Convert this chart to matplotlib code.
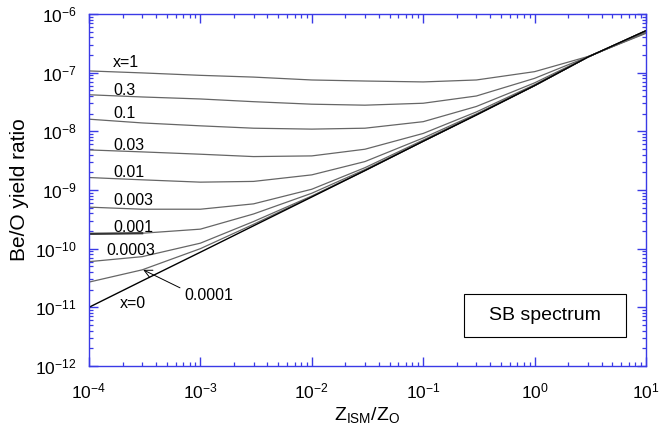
import matplotlib
matplotlib.use("Agg")
import matplotlib.pyplot as plt
from matplotlib.patches import Rectangle
from matplotlib.ticker import LogLocator, LogFormatterSciNotation, NullFormatter

plt.rcParams['font.family'] = ['Liberation Sans', 'DejaVu Sans']
plt.rcParams['mathtext.fontset'] = 'custom'
plt.rcParams['mathtext.rm'] = 'Liberation Sans'
plt.rcParams['mathtext.it'] = 'Liberation Sans'
plt.rcParams['mathtext.bf'] = 'Liberation Sans:bold'

# Z_ISM / Z_O grid
z = [1e-4, 3e-4, 1e-3, 3e-3, 1e-2, 3e-2, 0.1, 0.3, 1, 3, 10]

# Be/O yield ratio for each mixing fraction x
be_x1      = [1.07e-7, 9.9e-8, 9.0e-8, 8.4e-8, 7.5e-8, 7.2e-8, 6.95e-8, 7.5e-8, 1.04e-7, 1.88e-7, 4.68e-7]
be_x03     = [4.2e-8, 3.85e-8, 3.56e-8, 3.2e-8, 2.9e-8, 2.79e-8, 3.01e-8, 4.0e-8, 8.0e-8, 1.86e-7, 4.79e-7]
be_x01     = [1.61e-8, 1.39e-8, 1.24e-8, 1.13e-8, 1.09e-8, 1.13e-8, 1.46e-8, 2.65e-8, 6.7e-8, 1.85e-7, 4.9e-7]
be_x003    = [4.82e-9, 4.46e-9, 4.07e-9, 3.71e-9, 3.81e-9, 4.95e-9, 9.2e-9, 2.14e-8, 6.24e-8, 1.84e-7, 5.0e-7]
be_x001    = [1.63e-9, 1.49e-9, 1.36e-9, 1.40e-9, 1.81e-9, 3.05e-9, 7.7e-9, 1.98e-8, 6.1e-8, 1.84e-7, 5.07e-7]
be_x0003   = [5.1e-10, 4.7e-10, 4.7e-10, 5.8e-10, 1.03e-9, 2.4e-9, 7.1e-9, 1.93e-8, 6.03e-8, 1.84e-7, 5.13e-7]
be_x0001   = [1.79e-10, 1.83e-10, 2.15e-10, 3.9e-10, 8.8e-10, 2.23e-9, 6.84e-9, 1.91e-8, 6.0e-8, 1.84e-7, 5.19e-7]
be_x00003  = [6.0e-11, 7.3e-11, 1.24e-10, 2.9e-10, 7.9e-10, 2.16e-9, 6.8e-9, 1.9e-8, 6.0e-8, 1.84e-7, 5.19e-7]
be_x00001  = [2.69e-11, 4.35e-11, 1.0e-10, 2.6e-10, 7.76e-10, 2.14e-9, 6.76e-9, 1.9e-8, 6.0e-8, 1.84e-7, 5.19e-7]
be_x0      = [1.0e-11, 2.82e-11, 8.7e-11, 2.45e-10, 7.6e-10, 2.14e-9, 6.76e-9, 1.9e-8, 6.03e-8, 1.84e-7, 5.2e-7]

series = [be_x1, be_x03, be_x01, be_x003, be_x001, be_x0003, be_x0001, be_x00003, be_x00001]
labels = ["x=1", "0.3", "0.1", "0.03", "0.01", "0.003", "0.001", "0.0003"]
label_y = [1.26e-7, 4.17e-8, 1.67e-8, 4.82e-9, 1.69e-9, 5.57e-10, 1.93e-10, 7.83e-11]
label_x = [1.64e-4, 1.64e-4, 1.64e-4, 1.64e-4, 1.64e-4, 1.64e-4, 1.64e-4, 1.42e-4]

x_major = [1e-4, 1e-3, 1e-2, 1e-1, 1, 10]
y_major = [1e-12, 1e-11, 1e-10, 1e-9, 1e-8, 1e-7, 1e-6]

blue = '#3a3ae6'

fig = plt.figure(figsize=(6.6, 4.29), dpi=100)
ax = fig.add_axes([0.1348, 0.1469, 0.8440, 0.8205])

for s in series:
    ax.plot(z, s, color='#666666', lw=0.9)
ax.plot(z[:2], be_x0001[:2], color='#333333', lw=1.6)
ax.plot(z, be_x0, color='black', lw=1.0)

ax.set_xscale('log')
ax.set_yscale('log')
ax.set_xlim(1e-4, 10)
ax.set_ylim(1e-12, 1e-6)

for lab, lx, ly in zip(labels, label_x, label_y):
    ax.text(lx, ly, lab, fontsize=11.5, ha='left', va='baseline')
ax.text(1.9e-4, 9.9e-12, "x=0", fontsize=11.5, ha='left', va='baseline')
ax.text(7.13e-4, 1.34e-11, "0.0001", fontsize=11.5, ha='left', va='baseline')
ax.annotate("", xy=(3.07e-4, 4.35e-11), xytext=(6.56e-4, 2.15e-11),
            arrowprops=dict(arrowstyle='->', color='black', lw=0.7,
                            shrinkA=0, shrinkB=0, mutation_scale=14))

ax.add_patch(Rectangle((0.673, 0.0824), 0.291, 0.1221, transform=ax.transAxes,
                       fc='white', ec='black', lw=0.8, zorder=3))
ax.text(0.8187, 0.1435, "SB spectrum", transform=ax.transAxes, fontsize=14,
        ha='center', va='center', zorder=4)

ax.set_xticks(x_major)
ax.set_yticks(y_major)
ax.xaxis.set_minor_locator(LogLocator(base=10, subs=range(2, 10), numticks=20))
ax.yaxis.set_minor_locator(LogLocator(base=10, subs=range(2, 10), numticks=20))
ax.xaxis.set_major_formatter(LogFormatterSciNotation())
ax.yaxis.set_major_formatter(LogFormatterSciNotation())
ax.xaxis.set_minor_formatter(NullFormatter())
ax.yaxis.set_minor_formatter(NullFormatter())
ax.set_xlim(1e-4, 10)
ax.set_ylim(1e-12, 1e-6)

ax.tick_params(which='both', direction='in', top=True, right=True, color=blue,
               labelcolor='black')
ax.tick_params(which='major', length=6.5, width=1.0, labelsize=12.5)
ax.tick_params(axis='x', which='major', pad=11)
ax.tick_params(axis='y', which='major', pad=9)
ax.tick_params(which='minor', length=3, width=0.9, labelbottom=False,
               labelleft=False, labeltop=False, labelright=False)
for sp in ax.spines.values():
    sp.set_color(blue)
    sp.set_linewidth(1.0)

ax.set_ylabel("Be/O yield ratio", fontsize=15, labelpad=4)
ax.set_xlabel(r"$\mathrm{Z_{ISM}/Z_{O}}$", fontsize=14, labelpad=3)

fig.savefig("out.png", dpi=100)
